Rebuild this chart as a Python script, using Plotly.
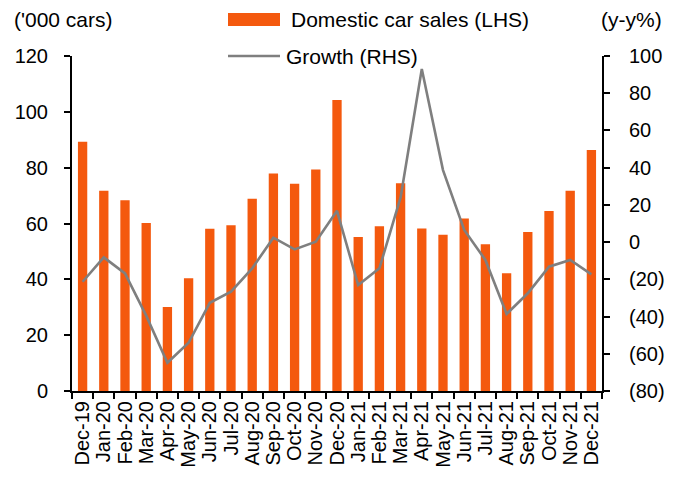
import plotly.graph_objects as go

months = ["Dec-19", "Jan-20", "Feb-20", "Mar-20", "Apr-20", "May-20", "Jun-20", "Jul-20",
          "Aug-20", "Sep-20", "Oct-20", "Nov-20", "Dec-20", "Jan-21", "Feb-21", "Mar-21",
          "Apr-21", "May-21", "Jun-21", "Jul-21", "Aug-21", "Sep-21", "Oct-21", "Nov-21", "Dec-21"]
car_sales = [89.3, 71.7, 68.3, 60.2, 30.1, 40.4, 58.1, 59.4, 68.9, 77.9, 74.2, 79.3, 104.2,
             55.2, 59.0, 74.4, 58.2, 56.0, 61.8, 52.6, 42.2, 57.0, 64.5, 71.7, 86.3]
growth = [-21.3, -8.2, -16.8, -39.5, -64.8, -54.1, -32.6, -26.6, -14.1, 2.4, -3.9, 0.2, 16.8,
          -23.1, -14.1, 24.0, 93.0, 38.7, 6.5, -9.6, -38.6, -27.5, -13.2, -9.6, -17.3]
left_ticks = [0, 20, 40, 60, 80, 100, 120]
right_ticks = [-80, -60, -40, -20, 0, 20, 40, 60, 80, 100]
right_tick_text = ["(80)", "(60)", "(40)", "(20)", "0", "20", "40", "60", "80", "100"]

ORANGE = "#F4590E"
GREY = "#7F7F7F"
FONT = "Liberation Sans, Arial, sans-serif"
FS = 20
FS_TXT = 21

fig = go.Figure()
fig.add_trace(go.Bar(x=months, y=car_sales, name="Domestic car sales (LHS)",
                     marker=dict(color=ORANGE, line=dict(width=0)), yaxis="y"))
fig.add_trace(go.Scatter(x=months, y=growth, name="Growth (RHS)", mode="lines",
                         line=dict(color=GREY, width=2.6), yaxis="y2"))

# page body adds an 8px offset; figure sized so plot area lands at screen x 72-602, y 56-391
OFF = 8
W, H = 673 - OFF, 477 - OFF
SL, SR, ST, SB = 72, 602, 56, 391  # plot area in screen pixels
L, T = SL - OFF, ST - OFF
R, B = W - (SR - OFF), H - (SB - OFF)
pw, ph = SR - SL, SB - ST

def px(xs):
    return (xs - SL) / pw

def py(ys):
    return (SB - ys) / ph

fig.update_layout(
    width=W, height=H, margin=dict(l=L, r=R, t=T, b=B, autoexpand=False),
    paper_bgcolor="white", plot_bgcolor="white",
    font=dict(family=FONT, size=FS, color="black"),
    showlegend=False, bargap=0.56,
    xaxis=dict(type="category", tickmode="array", tickvals=months, ticktext=months,
               showgrid=False, showline=True, linecolor="black", linewidth=2,
               ticks="outside", tickson="boundaries", ticklen=6, tickwidth=2, tickcolor="black",
               tickangle=-90, tickfont=dict(size=FS), automargin=False, zeroline=False),
    yaxis=dict(range=[0, 120], tickvals=left_ticks, showgrid=False, showline=True,
               linecolor="black", linewidth=2, ticks="outside", ticklen=6, tickwidth=2,
               tickcolor="black", zeroline=False, automargin=False, ticklabelstandoff=12),
    yaxis2=dict(range=[-80, 100], tickvals=right_ticks, ticktext=right_tick_text,
                overlaying="y", side="right", showgrid=False, showline=True,
                linecolor="black", linewidth=2, ticks="outside", ticklen=6, tickwidth=2,
                tickcolor="black", zeroline=False, automargin=False, ticklabelstandoff=15),
)

# axis unit titles
fig.add_annotation(text="('000 cars)", xref="paper", yref="paper", x=px(12), y=py(19),
                   xanchor="left", yanchor="middle", showarrow=False, font=dict(size=FS_TXT))
fig.add_annotation(text="(y-y%)", xref="paper", yref="paper", x=px(664), y=py(19),
                   xanchor="right", yanchor="middle", showarrow=False, font=dict(size=FS_TXT))

# legend
fig.add_shape(type="rect", xref="paper", yref="paper", x0=px(228), x1=px(280),
              y0=py(26), y1=py(13), fillcolor=ORANGE, line=dict(width=0))
fig.add_annotation(text="Domestic car sales (LHS)", xref="paper", yref="paper", x=px(289),
                   y=py(19), xanchor="left", yanchor="middle", showarrow=False,
                   font=dict(size=FS_TXT))
fig.add_shape(type="line", xref="paper", yref="paper", x0=px(228), x1=px(280),
              y0=py(56), y1=py(56), line=dict(color=GREY, width=2.6))
fig.add_annotation(text="Growth (RHS)", xref="paper", yref="paper", x=px(284),
                   y=py(56), xanchor="left", yanchor="middle", showarrow=False,
                   font=dict(size=FS_TXT))

fig.write_html("out.html")
